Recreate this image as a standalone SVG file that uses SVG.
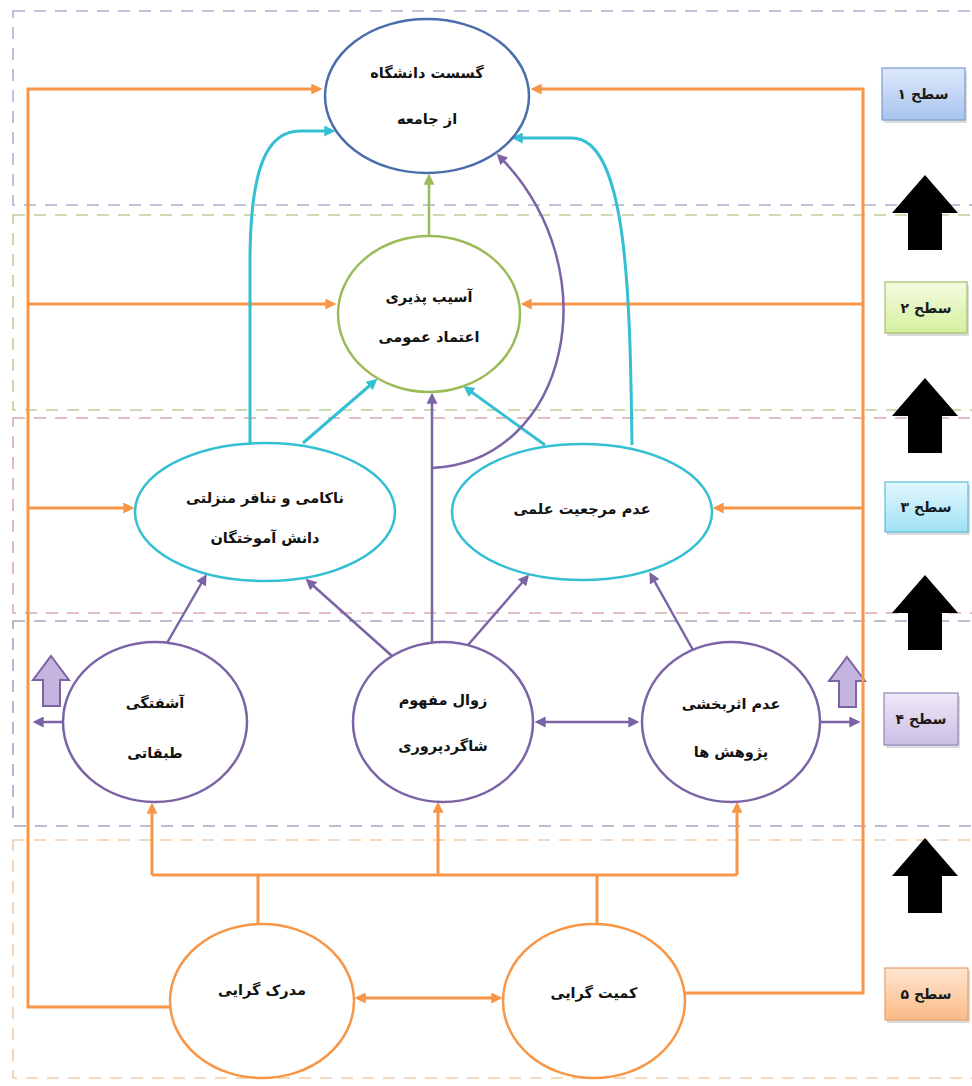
<svg xmlns="http://www.w3.org/2000/svg" width="972" height="1086" viewBox="0 0 972 1086">
<defs>
<style>
.t{font-family:"DejaVu Sans",sans-serif;font-weight:bold;font-size:14.5px;fill:#111;text-anchor:middle;direction:rtl}
.lv{font-family:"DejaVu Sans",sans-serif;font-weight:bold;font-size:14px;fill:#1a1a1a;text-anchor:middle;direction:rtl}
.o{stroke:#f79646;stroke-width:3;fill:none}
.c{stroke:#35bfd3;stroke-width:3;fill:none}
.p{stroke:#7b63a6;stroke-width:2.5;fill:none}
.g{stroke:#9bbb59;stroke-width:2.5;fill:none}
.dash{fill:none;stroke-width:1.6;stroke-dasharray:12 9}
.blk{fill:#000}
.hol{fill:#c3b5de;stroke:#7b63a6;stroke-width:2}
.box{stroke-width:1.2}
.sh{fill:#b8b8b8;opacity:0.5}
</style>
<marker id="aO" viewBox="0 0 10 10" refX="7" refY="5" markerWidth="11" markerHeight="11" markerUnits="userSpaceOnUse" orient="auto-start-reverse"><path d="M0,0 L10,5 L0,10 z" fill="#f79646"/></marker>
<marker id="aC" viewBox="0 0 10 10" refX="7" refY="5" markerWidth="11" markerHeight="11" markerUnits="userSpaceOnUse" orient="auto-start-reverse"><path d="M0,0 L10,5 L0,10 z" fill="#35bfd3"/></marker>
<marker id="aP" viewBox="0 0 10 10" refX="7" refY="5" markerWidth="11" markerHeight="11" markerUnits="userSpaceOnUse" orient="auto-start-reverse"><path d="M0,0 L10,5 L0,10 z" fill="#7b63a6"/></marker>
<marker id="aG" viewBox="0 0 10 10" refX="7" refY="5" markerWidth="11" markerHeight="11" markerUnits="userSpaceOnUse" orient="auto-start-reverse"><path d="M0,0 L10,5 L0,10 z" fill="#9bbb59"/></marker>
<linearGradient id="g1" x1="0" y1="0" x2="0" y2="1"><stop offset="0" stop-color="#dde9fb"/><stop offset="1" stop-color="#a8c3ee"/></linearGradient>
<linearGradient id="g2" x1="0" y1="0" x2="0" y2="1"><stop offset="0" stop-color="#f4fbdf"/><stop offset="1" stop-color="#d5efa0"/></linearGradient>
<linearGradient id="g3" x1="0" y1="0" x2="0" y2="1"><stop offset="0" stop-color="#e2f7fd"/><stop offset="1" stop-color="#9fe2f5"/></linearGradient>
<linearGradient id="g4" x1="0" y1="0" x2="0" y2="1"><stop offset="0" stop-color="#efe9f7"/><stop offset="1" stop-color="#cbbee5"/></linearGradient>
<linearGradient id="g5" x1="0" y1="0" x2="0" y2="1"><stop offset="0" stop-color="#fee6d0"/><stop offset="1" stop-color="#fbba86"/></linearGradient>
<polygon id="bigUp" points="33,0 66,38 50,38 50,75 16,75 16,38 0,38"/>
<polygon id="smallUp" points="18,0 36,24 27,24 27,50 10,50 10,24 0,24"/>
</defs>
<rect x="0" y="0" width="972" height="1086" fill="#fff"/>

<g id="levels">
<rect class="dash" x="13" y="11" width="975" height="194" stroke="#a9b3d2"/>
<rect class="dash" x="13" y="215" width="975" height="195" stroke="#bccf9c"/>
<rect class="dash" x="13" y="418" width="975" height="195" stroke="#d8abab"/>
<rect class="dash" x="13" y="621" width="975" height="205" stroke="#aaa5c4"/>
<rect class="dash" x="13" y="840" width="975" height="238" stroke="#f3cba6"/>
</g>

<g id="level-labels">
<g id="lvl1"><rect class="sh" x="884" y="71" width="83" height="52"/><rect class="box" x="882" y="68" width="83" height="52" fill="url(#g1)" stroke="#7d9bcf"/><text class="lv" x="923" y="99">سطح ۱</text></g>
<g id="lvl2"><rect class="sh" x="887" y="285" width="82" height="51"/><rect class="box" x="885" y="282" width="82" height="51" fill="url(#g2)" stroke="#9fbf6a"/><text class="lv" x="926" y="313">سطح ۲</text></g>
<g id="lvl3"><rect class="sh" x="887" y="485" width="83" height="50"/><rect class="box" x="885" y="482" width="83" height="50" fill="url(#g3)" stroke="#5bbfd8"/><text class="lv" x="926" y="512">سطح ۳</text></g>
<g id="lvl4"><rect class="sh" x="886" y="696" width="74" height="52"/><rect class="box" x="884" y="693" width="74" height="52" fill="url(#g4)" stroke="#9585ba"/><text class="lv" x="921" y="724">سطح ۴</text></g>
<g id="lvl5"><rect class="sh" x="887" y="971" width="83" height="52"/><rect class="box" x="885" y="968" width="83" height="52" fill="url(#g5)" stroke="#e8a06a"/><text class="lv" x="926" y="999">سطح ۵</text></g>
<use href="#bigUp" class="blk" x="892" y="175"/>
<use href="#bigUp" class="blk" x="892" y="378"/>
<use href="#bigUp" class="blk" x="892" y="575"/>
<use href="#bigUp" class="blk" x="892" y="838"/>
<use href="#smallUp" class="hol" x="33" y="656"/>
<use href="#smallUp" class="hol" x="829" y="657"/>
</g>

<g id="connectors">
<path class="o" d="M170,1007 H28 V89 H319" marker-end="url(#aO)"/>
<path class="o" d="M28,304 H333" marker-end="url(#aO)"/>
<path class="o" d="M28,508 H131" marker-end="url(#aO)"/>
<path class="o" d="M685,993 H863 V89 H534" marker-end="url(#aO)"/>
<path class="o" d="M863,304 H524" marker-end="url(#aO)"/>
<path class="o" d="M863,508 H716" marker-end="url(#aO)"/>
<path class="o" d="M152,875 H737"/>
<path class="o" d="M258,924 V875"/>
<path class="o" d="M597,924 V875"/>
<path class="o" d="M152,875 V806" marker-end="url(#aO)"/>
<path class="o" d="M438,875 V805" marker-end="url(#aO)"/>
<path class="o" d="M737,875 V805" marker-end="url(#aO)"/>
<path class="o" d="M358,998 H499" marker-start="url(#aO)" marker-end="url(#aO)"/>
<path class="g" d="M429,236 V177" marker-end="url(#aG)"/>
<path class="c" d="M250,443 V255 C251,170 266,131 300,131 H332" marker-end="url(#aC)"/>
<path class="c" d="M632,445 C630,300 628,138 572,138 H515" marker-end="url(#aC)"/>
<path class="c" d="M303,443 L375,381" marker-end="url(#aC)"/>
<path class="c" d="M545,445 L466,388" marker-end="url(#aC)"/>
<path class="p" d="M167,643 L205,577" marker-end="url(#aP)"/>
<path class="p" d="M392,656 L308,581" marker-end="url(#aP)"/>
<path class="p" d="M432,643 V396" marker-end="url(#aP)"/>
<path class="p" d="M468,645 L527,577" marker-end="url(#aP)"/>
<path class="p" d="M693,650 L651,575" marker-end="url(#aP)"/>
<path class="p" d="M432,468 C568,462 612,270 499,156" marker-end="url(#aP)"/>
<path class="p" d="M538,722 H636" marker-start="url(#aP)" marker-end="url(#aP)"/>
<path class="p" d="M63,722 H36" marker-end="url(#aP)"/>
<path class="p" d="M820,722 H857" marker-end="url(#aP)"/>
</g>

<g id="n1"><ellipse cx="427" cy="96" rx="102" ry="77" fill="#fff" stroke="#4a6dab" stroke-width="2.5"/>
<text class="t" x="427" y="78">گسست دانشگاه</text><text class="t" x="427" y="124">از جامعه</text></g>
<g id="n2"><ellipse cx="429" cy="314" rx="91" ry="78" fill="#fff" stroke="#9bbb59" stroke-width="2.5"/>
<text class="t" x="429" y="302">آسیب پذیری</text><text class="t" x="429" y="342">اعتماد عمومی</text></g>
<g id="n3a"><ellipse cx="265" cy="512" rx="130" ry="69" fill="#fff" stroke="#35bfd3" stroke-width="2.5"/>
<text class="t" x="265" y="503">ناکامی و تنافر منزلتی</text><text class="t" x="265" y="543">دانش آموختگان</text></g>
<g id="n3b"><ellipse cx="582" cy="512" rx="130" ry="68" fill="#fff" stroke="#35bfd3" stroke-width="2.5"/>
<text class="t" x="582" y="514">عدم مرجعیت علمی</text></g>
<g id="n4a"><ellipse cx="155" cy="722" rx="92" ry="80" fill="#fff" stroke="#7b63a6" stroke-width="2.5"/>
<text class="t" x="155" y="708">آشفتگی</text><text class="t" x="155" y="758">طبقاتی</text></g>
<g id="n4b"><ellipse cx="443" cy="722" rx="90" ry="80" fill="#fff" stroke="#7b63a6" stroke-width="2.5"/>
<text class="t" x="443" y="705">زوال مفهوم</text><text class="t" x="443" y="751">شاگردپروری</text></g>
<g id="n4c"><ellipse cx="731" cy="722" rx="89" ry="80" fill="#fff" stroke="#7b63a6" stroke-width="2.5"/>
<text class="t" x="731" y="709">عدم اثربخشی</text><text class="t" x="731" y="757">پژوهش ها</text></g>
<g id="n5a"><ellipse cx="262" cy="1001" rx="92" ry="77" fill="#fff" stroke="#f79646" stroke-width="2.5"/>
<text class="t" x="262" y="995">مدرک گرایی</text></g>
<g id="n5b"><ellipse cx="594" cy="1001" rx="91" ry="77" fill="#fff" stroke="#f79646" stroke-width="2.5"/>
<text class="t" x="594" y="998">کمیت گرایی</text></g>
</svg>
